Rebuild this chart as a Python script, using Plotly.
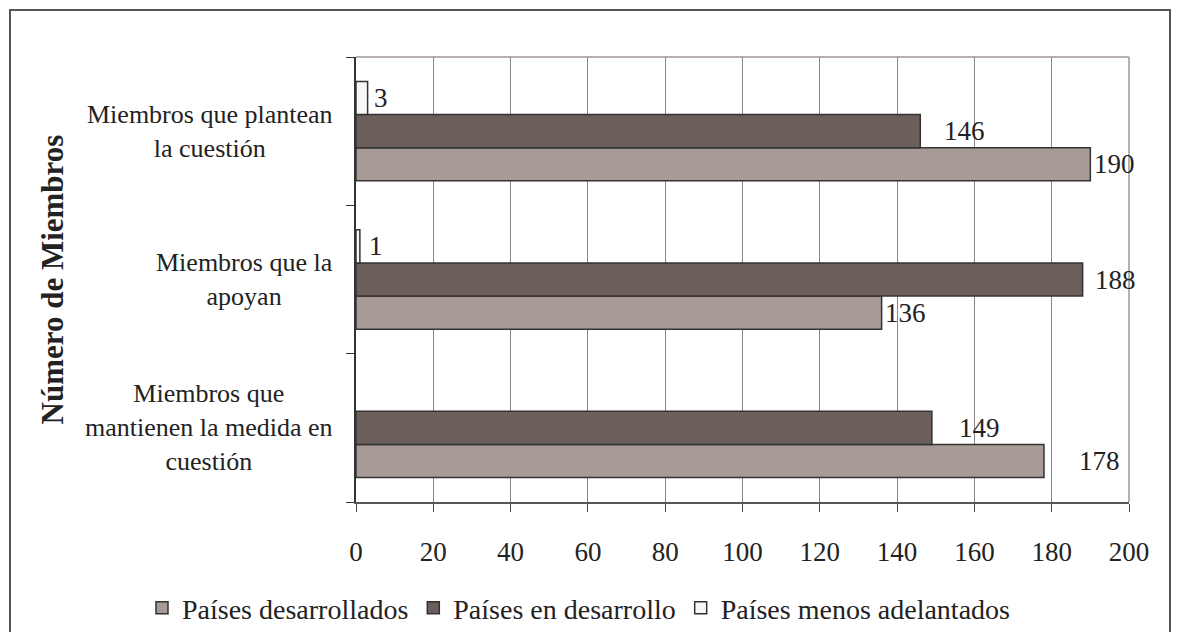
import plotly.graph_objects as go

# ---- data ----
categories = [
    "Miembros que<br>mantienen la medida en<br>cuestión",
    "Miembros que la<br>apoyan",
    "Miembros que plantean<br>la cuestión",
]
series_names = ["Países desarrollados", "Países en desarrollo", "Países menos adelantados"]
desarrollados = [178, 136, 190]
en_desarrollo = [149, 188, 146]
menos_adelantados = [None, 1, 3]
x_ticks = [0, 20, 40, 60, 80, 100, 120, 140, 160, 180, 200]
axis_title = "Número de Miembros"

# ---- styling ----
colors = ["#A89A96", "#6B5E5B", "#F7F7F7"]
# horizontal nudges (px) of the value labels, matching the reference placement
label_nudge = [[33, 1, 2], [25, 10, 22], [0, 7, 4]]

FONT = "Liberation Serif"
W, H = 1179, 632
L, R, T, B = 356, 50, 57, 130
plot_h = H - T - B
pw = W - L - R
bargap = 0.33
bar_px = plot_h / len(categories) * (1 - bargap) / 3

series = [desarrollados, en_desarrollo, menos_adelantados]

fig = go.Figure()
for name, vals, col in zip(series_names, series, colors):
    fig.add_trace(go.Bar(
        y=categories, x=vals, name=name, orientation="h",
        marker=dict(color=col, line=dict(color="#333333", width=1.5)),
    ))

annotations = []
for i, vals in enumerate(series):
    for j, v in enumerate(vals):
        if v is None:
            continue
        annotations.append(dict(
            x=v, y=categories[j], xref="x", yref="y",
            text=str(v), showarrow=False, xanchor="left", yanchor="middle",
            xshift=label_nudge[i][j], yshift=(i - 1) * bar_px,
            font=dict(family=FONT, size=27, color="#222222"),
        ))

for c in categories:
    annotations.append(dict(
        x=(335 - L) / pw, y=c, xref="paper", yref="y", text=c, showarrow=False,
        xanchor="right", yanchor="middle", align="center",
        font=dict(family=FONT, size=26, color="#222222"),
    ))

annotations.append(dict(
    x=(52 - L) / pw, y=0.5, xref="paper", yref="paper",
    text="<b>" + axis_title + "</b>", showarrow=False, textangle=-90,
    xanchor="center", yanchor="middle",
    font=dict(family=FONT, size=31, color="#222222"),
))

shapes = [
    # outer chart border
    dict(type="rect", xref="paper", yref="paper",
         x0=(10 - L) / pw, x1=(1170 - L) / pw,
         y0=(T + plot_h - 645) / plot_h, y1=(T + plot_h - 10) / plot_h,
         line=dict(color="#555555", width=2), fillcolor="rgba(0,0,0,0)", layer="below"),
    # top and right plot border
    dict(type="line", xref="paper", yref="paper", x0=0, x1=1, y0=1, y1=1,
         line=dict(color="#A09694", width=1.5)),
    dict(type="line", xref="paper", yref="paper", x0=1, x1=1, y0=0, y1=1,
         line=dict(color="#A09694", width=1.5)),
]

fig.update_layout(
    width=W, height=H,
    margin=dict(l=L, r=R, t=T, b=B, autoexpand=False),
    paper_bgcolor="white", plot_bgcolor="white",
    barmode="group", bargap=bargap, bargroupgap=0,
    font=dict(family=FONT, size=27, color="#222222"),
    showlegend=True,
    legend=dict(orientation="h", xref="paper", yref="paper",
                x=(142 - L) / pw, xanchor="left",
                y=(T + plot_h - 608) / plot_h, yanchor="middle",
                font=dict(family=FONT, size=28, color="#222222"),
                itemwidth=30, traceorder="normal", bgcolor="rgba(0,0,0,0)"),
    annotations=annotations,
    shapes=shapes,
)
fig.update_xaxes(
    range=[0, 200], tickvals=x_ticks, ticktext=[str(t) for t in x_ticks],
    showgrid=True, gridcolor="#888888", gridwidth=1,
    ticks="outside", ticklen=8, tickcolor="#444444",
    showline=True, linecolor="#555555", linewidth=1.5,
    tickfont=dict(family=FONT, size=27, color="#222222"),
    zeroline=False, ticklabelstandoff=17,
)
fig.update_yaxes(
    categoryorder="array", categoryarray=categories,
    showticklabels=False, ticks="outside", ticklen=8, tickcolor="#333333",
    tickson="boundaries",
    showline=True, linecolor="#333333", linewidth=1.5, showgrid=False,
)

fig.write_html("out.html", config={"displayModeBar": False},
               post_script="document.body.style.margin='0px';")
